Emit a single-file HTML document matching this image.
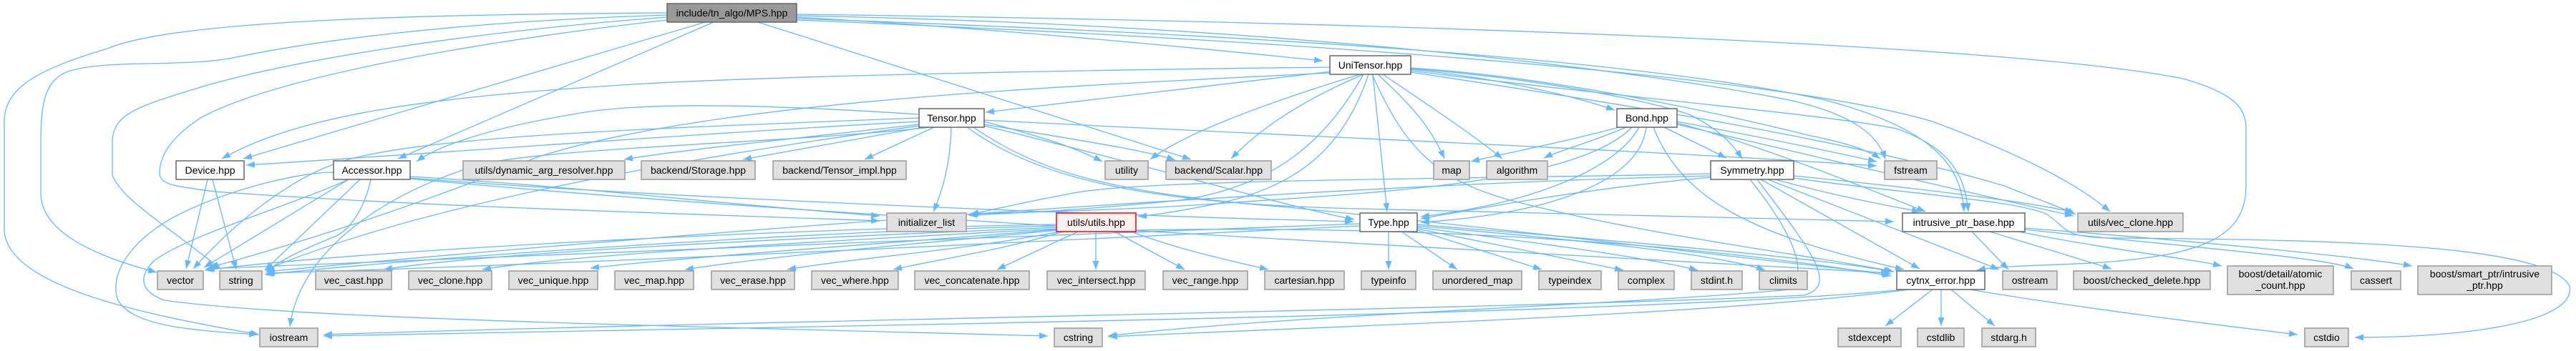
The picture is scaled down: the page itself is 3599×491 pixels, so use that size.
<!DOCTYPE html>
<html><head><meta charset="utf-8"><style>
html,body{margin:0;padding:0;background:#fff;}
svg{display:block;}
text{font-family:"Liberation Sans","DejaVu Sans",sans-serif;font-size:14px;fill:#000;text-anchor:middle;}
.e{fill:none;stroke:#63b8ff;stroke-width:1.3;marker-end:url(#a);}
.w{fill:#fff;stroke:#666;stroke-width:1.5;}
.g{fill:#e0e0e0;stroke:#999;stroke-width:1.5;}
.r{fill:#fff0f0;stroke:#f00;stroke-width:1.5;}
.m{fill:#999;stroke:#666;stroke-width:1.5;}
</style></head><body>
<svg width="3599" height="491" viewBox="0 0 3599 491" xmlns="http://www.w3.org/2000/svg">
<defs><marker id="a" markerUnits="userSpaceOnUse" markerWidth="12" markerHeight="9" refX="12" refY="4.5" orient="auto"><path d="M0,0 L12,4.5 L0,9 z" fill="#63b8ff"/></marker></defs>
<g>
<path class="e" d="M932,18 C650,20 250,25 150,68 C60,95 6,120 6,170 L6,320 C6,400 200,440 362,468"/>
<path class="e" d="M932,21 C650,30 450,55 330,80 C260,95 150,82 95,100 C64,112 57,140 57,200 L57,270 C57,320 120,355 219,381"/>
<path class="e" d="M932,24 C650,45 400,85 270,125 C190,150 157,160 157,200 L157,245 C170,280 240,320 309,377"/>
<path class="e" d="M932,28 C650,60 380,110 280,165 C235,195 223,220 223,243 C225,258 240,260 300,268 C600,290 1000,300 1229,309"/>
<path class="e" d="M985,31 L340,222"/>
<path class="e" d="M997,31 L556,222"/>
<path class="e" d="M1059,31 L1664,223"/>
<path class="e" d="M1113,24 C1400,40 1700,70 1848,85"/>
<path class="e" d="M1113,22 C1800,35 2300,100 2500,140 C2590,160 2625,190 2634,223"/>
<path class="e" d="M1113,26 C1800,50 2300,85 2550,140 C2700,180 2740,230 2744,296"/>
<path class="e" d="M1113,28 C1900,60 2500,110 2700,170 C2820,215 2900,255 2948,296"/>
<path class="e" d="M1113,20 C1900,30 2800,60 3050,110 C3120,130 3138,150 3138,180 L3138,260 C3138,330 3080,355 2950,366 C2880,372 2800,370 2762,378"/>

<path class="e" d="M1860,100 L1377,157"/>
<path class="e" d="M1858,94 C1500,98 1100,106 900,117 C600,135 420,160 310,222"/>
<path class="e" d="M1900,104 C1750,150 1650,190 1607,223"/>
<path class="e" d="M1905,104 C1820,140 1760,180 1720,222"/>
<path class="e" d="M1912,104 C1880,200 1820,260 1700,285 C1650,295 1620,300 1590,303"/>
<path class="e" d="M1918,104 L1938,296"/>
<path class="e" d="M1925,104 C1975,150 2000,180 2018,222"/>
<path class="e" d="M1932,104 C2000,150 2060,190 2099,222"/>
<path class="e" d="M1971,97 C2100,110 2200,135 2256,154"/>
<path class="e" d="M1971,96 C2150,110 2300,140 2360,160 C2400,180 2420,200 2434,222"/>
<path class="e" d="M1971,95 C2200,110 2450,170 2530,190 C2580,200 2610,210 2627,222"/>
<path class="e" d="M1971,99 C2300,140 2550,160 2650,180 C2720,205 2745,240 2750,296"/>
<path class="e" d="M1971,101 C2300,150 2600,200 2800,260 C2850,280 2880,290 2900,300"/>
<path class="e" d="M1917,104 C1960,200 2000,250 2110,280 C2300,330 2550,360 2646,380"/>
<path class="e" d="M1905,104 C1850,200 1780,260 1650,280 C1500,295 1420,298 1353,301"/>
<path class="e" d="M1858,102 C1500,120 1000,140 750,220 C550,300 400,345 290,375"/>

<path class="e" d="M1284,170 C1000,185 600,215 344,231"/>
<path class="e" d="M1284,160 C1100,148 900,140 800,160 C680,180 610,205 582,226"/>
<path class="e" d="M1284,174 C1100,195 950,210 872,223"/>
<path class="e" d="M1290,178 L1038,223"/>
<path class="e" d="M1305,178 L1208,223"/>
<path class="e" d="M1329,178 C1328,220 1320,260 1304,296"/>
<path class="e" d="M1375,170 C1450,190 1500,205 1540,226"/>
<path class="e" d="M1375,174 C1500,195 1600,210 1642,224"/>
<path class="e" d="M1284,165 C900,180 600,190 480,225 C400,250 320,320 270,376"/>
<path class="e" d="M1284,176 C1000,215 600,280 370,378"/>
<path class="e" d="M1300,178 C1100,200 800,205 680,228 C560,260 420,340 405,457"/>
<path class="e" d="M1375,168 C1800,190 2300,210 2622,232"/>
<path class="e" d="M1351,178 C1450,250 1600,285 1900,292 C2200,300 2500,306 2646,310"/>
<path class="e" d="M1360,178 C1450,240 1550,270 1800,290 C2200,330 2500,370 2642,383"/>
<path class="e" d="M1375,176 C1600,230 1800,290 1892,307"/>

<path class="e" d="M2262,178 C2180,200 2100,215 2055,226"/>
<path class="e" d="M2272,178 C2220,200 2180,210 2157,221"/>
<path class="e" d="M2325,178 L2412,221"/>
<path class="e" d="M2290,178 C2250,250 2100,290 1985,303"/>
<path class="e" d="M2300,178 C2290,260 2150,300 1985,311"/>
<path class="e" d="M2343,170 C2450,190 2550,210 2622,226"/>
<path class="e" d="M2343,172 C2450,200 2600,260 2690,296"/>
<path class="e" d="M2343,174 C2500,210 2750,270 2897,302"/>
<path class="e" d="M2310,178 C2350,280 2450,330 2660,377"/>
<path class="e" d="M2280,178 C2200,260 1900,270 1700,285 C1550,295 1420,297 1355,299"/>

<path class="e" d="M2390,243 C2100,250 1600,250 1500,270 C1420,285 1380,295 1355,300"/>
<path class="e" d="M2390,248 C2200,265 2050,295 1985,306"/>
<path class="e" d="M2480,251 C2550,270 2620,285 2683,296"/>
<path class="e" d="M2506,246 C2700,265 2850,285 2897,297"/>
<path class="e" d="M2460,251 L2682,376"/>
<path class="e" d="M2470,251 L2793,377"/>
<path class="e" d="M2455,251 C2530,350 2570,400 2520,413 C2200,430 1000,450 452,468"/>
<path class="e" d="M2445,251 C2500,320 2530,380 2500,405 C2300,425 1800,440 1548,470"/>
<path class="e" d="M2506,249 C2650,270 2820,280 2860,300 C2890,320 2880,332 2950,333 C3300,335 3560,345 3590,400 C3600,450 3450,472 3290,472"/>
<path class="e" d="M2390,246 C1800,260 900,330 372,380"/>

<path class="e" d="M1940,324 L1940,377"/>
<path class="e" d="M1958,324 L2036,377"/>
<path class="e" d="M1980,322 L2154,377"/>
<path class="e" d="M1980,320 C2100,345 2200,365 2268,378"/>
<path class="e" d="M1980,318 C2150,340 2300,360 2372,378"/>
<path class="e" d="M1980,316 C2200,335 2400,355 2466,378"/>
<path class="e" d="M1980,314 C2300,340 2550,362 2644,380"/>
<path class="e" d="M1900,313 C1400,330 700,360 288,376"/>
<path class="e" d="M1900,316 C1400,340 800,370 372,382"/>

<path class="e" d="M1476,318 C1200,330 700,350 536,377"/>
<path class="e" d="M1476,320 C1200,335 800,355 674,377"/>
<path class="e" d="M1476,321 C1250,340 950,360 825,375"/>
<path class="e" d="M1476,322 C1300,340 1100,355 957,377"/>
<path class="e" d="M1480,324 C1350,350 1200,360 1100,377"/>
<path class="e" d="M1485,324 C1400,350 1300,365 1248,377"/>
<path class="e" d="M1506,324 L1393,377"/>
<path class="e" d="M1531,324 L1531,377"/>
<path class="e" d="M1557,324 L1655,377"/>
<path class="e" d="M1580,324 C1650,350 1720,365 1772,377"/>
<path class="e" d="M1587,322 C1900,316 2300,330 2642,386"/>
<path class="e" d="M1476,314 C1100,320 500,350 286,378"/>
<path class="e" d="M1476,316 C1100,325 600,360 370,384"/>

<path class="e" d="M487,251 L285,374"/>
<path class="e" d="M503,251 L370,378"/>
<path class="e" d="M518,251 C510,290 490,320 470,330 C420,350 390,365 372,380"/>
<path class="e" d="M466,241 C417,241 320,265 250,300 C190,330 150,380 165,420 C185,455 260,462 360,468"/>
<path class="e" d="M487,251 C400,290 260,330 215,365 C190,390 200,410 230,420 C400,445 900,455 1464,470"/>
<path class="e" d="M573,247 C800,260 1000,285 1229,302"/>
<path class="e" d="M573,249 C900,275 1500,300 1891,310"/>
<path class="e" d="M573,250 C1100,300 1900,340 2640,382"/>

<path class="e" d="M290,251 L260,376"/>
<path class="e" d="M297,251 L330,377"/>

<path class="e" d="M2755,324 L2806,377"/>
<path class="e" d="M2780,324 L2950,376"/>
<path class="e" d="M2820,324 C2950,350 3050,360 3104,372"/>
<path class="e" d="M2829,321 C3050,345 3250,360 3288,376"/>
<path class="e" d="M2829,319 C3100,340 3300,360 3370,372"/>

<path class="e" d="M2700,405 L2634,456"/>
<path class="e" d="M2712,405 L2712,456"/>
<path class="e" d="M2726,405 L2787,456"/>
<path class="e" d="M2752,405 C2900,430 3100,455 3210,468"/>
<path class="e" d="M2668,405 C2400,440 1900,455 1549,471"/>
<path class="e" d="M2660,405 C2300,440 1200,455 452,470"/>
</g>

<g>
<rect class="m" x="932" y="5" width="181" height="26"/><text x="1022.5" y="23">include/tn_algo/MPS.hpp</text>
<rect class="w" x="1858" y="78" width="113" height="26"/><text x="1914.5" y="96">UniTensor.hpp</text>
<rect class="w" x="1284" y="152" width="91" height="26"/><text x="1329.5" y="170">Tensor.hpp</text>
<rect class="w" x="2259" y="152" width="84" height="26"/><text x="2301" y="170">Bond.hpp</text>

<rect class="w" x="246" y="225" width="95" height="26"/><text x="293.5" y="243">Device.hpp</text>
<rect class="w" x="466" y="225" width="107" height="26"/><text x="519.5" y="243">Accessor.hpp</text>
<rect class="g" x="647" y="225" width="226" height="26"/><text x="760" y="243">utils/dynamic_arg_resolver.hpp</text>
<rect class="g" x="896" y="225" width="159" height="26"/><text x="975.5" y="243">backend/Storage.hpp</text>
<rect class="g" x="1080" y="225" width="186" height="26"/><text x="1173" y="243">backend/Tensor_impl.hpp</text>
<rect class="g" x="1544" y="225" width="60" height="26"/><text x="1574" y="243">utility</text>
<rect class="g" x="1629" y="225" width="147" height="26"/><text x="1702.5" y="243">backend/Scalar.hpp</text>
<rect class="g" x="2003" y="225" width="50" height="26"/><text x="2028" y="243">map</text>
<rect class="g" x="2077" y="225" width="85" height="26"/><text x="2119.5" y="243">algorithm</text>
<rect class="w" x="2390" y="225" width="116" height="26"/><text x="2448" y="243">Symmetry.hpp</text>
<rect class="g" x="2633" y="225" width="73" height="26"/><text x="2669.5" y="243">fstream</text>

<rect class="g" x="1239" y="298" width="111" height="26"/><text x="1294.5" y="316">initializer_list</text>
<rect class="r" x="1476" y="298" width="111" height="26"/><text x="1531.5" y="316">utils/utils.hpp</text>
<rect class="w" x="1900" y="298" width="80" height="26"/><text x="1940" y="316">Type.hpp</text>
<rect class="w" x="2658" y="298" width="171" height="26"/><text x="2743.5" y="316">intrusive_ptr_base.hpp</text>
<rect class="g" x="2903" y="298" width="147" height="26"/><text x="2976.5" y="316">utils/vec_clone.hpp</text>

<rect class="g" x="220" y="379" width="64" height="26"/><text x="252" y="397">vector</text>
<rect class="g" x="307" y="379" width="59" height="26"/><text x="336.5" y="397">string</text>
<rect class="g" x="441" y="379" width="106" height="26"/><text x="494" y="397">vec_cast.hpp</text>
<rect class="g" x="571" y="379" width="116" height="26"/><text x="629" y="397">vec_clone.hpp</text>
<rect class="g" x="711" y="379" width="124" height="26"/><text x="773" y="397">vec_unique.hpp</text>
<rect class="g" x="859" y="379" width="110" height="26"/><text x="914" y="397">vec_map.hpp</text>
<rect class="g" x="994" y="379" width="116" height="26"/><text x="1052" y="397">vec_erase.hpp</text>
<rect class="g" x="1134" y="379" width="121" height="26"/><text x="1194.5" y="397">vec_where.hpp</text>
<rect class="g" x="1278" y="379" width="160" height="26"/><text x="1358" y="397">vec_concatenate.hpp</text>
<rect class="g" x="1463" y="379" width="137" height="26"/><text x="1531.5" y="397">vec_intersect.hpp</text>
<rect class="g" x="1625" y="379" width="118" height="26"/><text x="1684" y="397">vec_range.hpp</text>
<rect class="g" x="1767" y="379" width="111" height="26"/><text x="1822.5" y="397">cartesian.hpp</text>
<rect class="g" x="1902" y="379" width="76" height="26"/><text x="1940" y="397">typeinfo</text>
<rect class="g" x="2002" y="379" width="124" height="26"/><text x="2064" y="397">unordered_map</text>
<rect class="g" x="2150" y="379" width="87" height="26"/><text x="2193.5" y="397">typeindex</text>
<rect class="g" x="2261" y="379" width="78" height="26"/><text x="2300" y="397">complex</text>
<rect class="g" x="2363" y="379" width="71" height="26"/><text x="2398.5" y="397">stdint.h</text>
<rect class="g" x="2458" y="379" width="67" height="26"/><text x="2491.5" y="397">climits</text>
<rect class="w" x="2650" y="379" width="123" height="26"/><text x="2711.5" y="397">cytnx_error.hpp</text>
<rect class="g" x="2798" y="379" width="76" height="26"/><text x="2836" y="397">ostream</text>
<rect class="g" x="2897" y="379" width="191" height="26"/><text x="2992.5" y="397">boost/checked_delete.hpp</text>
<rect class="g" x="3112" y="372" width="148" height="40"/><text x="3186" y="388">boost/detail/atomic</text><text x="3186" y="404">_count.hpp</text>
<rect class="g" x="3285" y="379" width="69" height="26"/><text x="3319.5" y="397">cassert</text>
<rect class="g" x="3378" y="372" width="187" height="40"/><text x="3471.5" y="388">boost/smart_ptr/intrusive</text><text x="3471.5" y="404">_ptr.hpp</text>

<rect class="g" x="363" y="459" width="81" height="26"/><text x="403.5" y="477">iostream</text>
<rect class="g" x="1473" y="459" width="67" height="26"/><text x="1506.5" y="477">cstring</text>
<rect class="g" x="2568" y="459" width="88" height="26"/><text x="2612" y="477">stdexcept</text>
<rect class="g" x="2679" y="459" width="65" height="26"/><text x="2711.5" y="477">cstdlib</text>
<rect class="g" x="2769" y="459" width="75" height="26"/><text x="2806.5" y="477">stdarg.h</text>
<rect class="g" x="3220" y="459" width="61" height="26"/><text x="3250.5" y="477">cstdio</text>
</g>
</svg>
</body></html>
